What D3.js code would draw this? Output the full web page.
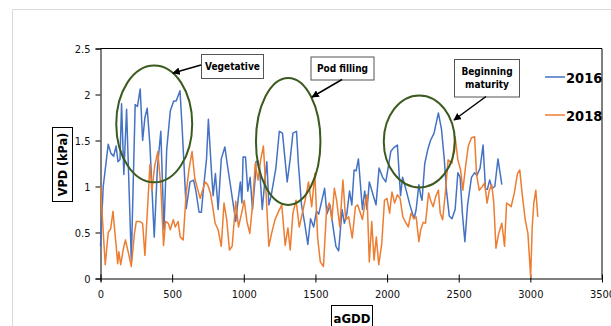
<!DOCTYPE html>
<html>
<head>
<meta charset="utf-8">
<script src="https://cdn.jsdelivr.net/npm/d3@7"></script>
<style>
  body { margin: 0; background: #fff; }
  svg text { font-family: "Liberation Sans Narrow", "DejaVu Sans Condensed", "Arial Narrow", sans-serif; }
</style>
</head>
<body>
<div id="chart"></div>
<script>
// chart size
var width = 611;
var height = 326;

// data (aGDD, VPD in kPa)
var x2016 = [0, 19, 54, 73, 92, 109, 122, 136, 147, 163,
  182, 215, 242, 258, 277, 294, 310, 326, 345, 375,
  397, 421, 443, 462, 487, 511, 528, 555, 571, 598,
  625, 650, 666, 688, 704, 720, 740, 753, 775, 786,
  802, 821, 843, 868, 884, 908, 944, 960, 976, 987,
  995, 1012, 1028, 1044, 1061, 1080, 1085, 1099, 1110, 1129,
  1148, 1161, 1175, 1191, 1224, 1248, 1270, 1303, 1324, 1343,
  1368, 1381, 1403, 1425, 1447, 1466, 1488, 1507, 1523, 1564,
  1580, 1602, 1624, 1643, 1662, 1686, 1702, 1719, 1738, 1754,
  1770, 1784, 1800, 1828, 1844, 1860, 1876, 1904, 1923, 1944,
  1969, 1991, 2007, 2026, 2045, 2072, 2094, 2108, 2135, 2159,
  2189, 2203, 2222, 2235, 2244, 2263, 2284, 2303, 2328, 2358,
  2380, 2399, 2415, 2434, 2453, 2475, 2494, 2510, 2526, 2543,
  2562, 2589, 2611, 2627, 2649, 2670, 2687, 2700, 2716, 2733,
  2752, 2774, 2801];
var vpd2016 = [0.35, 1.0, 1.46, 1.36, 1.33, 1.44, 1.27, 1.29, 1.9, 1.13,
  1.84, 0.2, 1.89, 1.87, 2.06, 1.5, 1.75, 1.85, 1.45, 0.45,
  1.2, 1.6, 0.53, 1.4, 1.82, 1.93, 1.93, 2.04, 1.6, 0.76,
  1.05, 1.07, 0.95, 0.72, 0.72, 1.0, 1.3, 1.73, 1.15, 0.9,
  1.14, 0.75, 1.3, 1.43, 1.25, 1.0, 0.62, 0.85, 1.05, 0.82,
  1.32, 1.32, 0.95, 1.1, 0.75, 1.1, 1.27, 1.28, 1.2, 0.75,
  1.08, 1.27, 0.8, 0.9, 1.2, 1.6, 1.58, 1.05, 1.3, 1.58,
  1.6, 1.25, 0.8, 0.6, 0.37, 0.65, 0.56, 0.73, 0.7, 0.98,
  0.7, 0.8, 0.55, 0.35, 0.3, 0.75, 0.6, 0.7, 0.95, 0.8,
  1.18, 1.17, 1.3, 0.75, 0.95, 0.75, 1.05, 0.9, 0.8, 1.2,
  1.1, 1.05, 1.2, 1.38, 1.42, 1.45, 0.9, 1.1, 0.95, 0.8,
  0.65, 0.75, 1.02, 0.9, 0.85, 1.25, 1.4, 1.5, 1.58, 1.8,
  1.62, 1.3, 0.95, 0.68, 0.65, 0.75, 1.15, 1.1, 0.7, 0.4,
  0.8, 1.1, 1.15, 1.12, 1.2, 1.45, 0.97, 0.97, 1.07, 0.98,
  1.0, 1.3, 1.02];

var x2018 = [0, 33, 54, 71, 87, 109, 120, 128, 141, 158,
  174, 196, 215, 237, 250, 272, 294, 310, 345, 359,
  378, 400, 421, 440, 454, 473, 487, 508, 522, 541,
  557, 577, 598, 617, 639, 658, 680, 696, 712, 731,
  748, 767, 783, 800, 821, 843, 862, 881, 900, 919,
  944, 963, 985, 1003, 1022, 1042, 1061, 1080, 1099, 1118,
  1137, 1153, 1175, 1194, 1218, 1243, 1265, 1289, 1308, 1324,
  1343, 1365, 1387, 1406, 1428, 1452, 1474, 1496, 1515, 1534,
  1556, 1577, 1596, 1615, 1632, 1648, 1670, 1692, 1711, 1732,
  1757, 1779, 1795, 1814, 1828, 1844, 1860, 1876, 1893, 1909,
  1925, 1942, 1963, 1982, 1999, 2018, 2034, 2053, 2072, 2091,
  2110, 2126, 2148, 2167, 2186, 2203, 2222, 2235, 2252, 2268,
  2290, 2306, 2322, 2339, 2358, 2371, 2388, 2407, 2426, 2453,
  2475, 2494, 2513, 2529, 2548, 2567, 2589, 2611, 2624, 2643,
  2665, 2681, 2698, 2714, 2730, 2744, 2760, 2779, 2801, 2820,
  2834, 2853, 2866, 2888, 2910, 2926, 2942, 2964, 2983, 3002,
  3013, 3024, 3038, 3052];
var vpd2018 = [1.0, 0.15, 0.5, 0.54, 0.73, 0.36, 0.16, 0.29, 0.15, 0.31,
  0.42, 0.27, 0.13, 0.49, 0.62, 0.62, 0.6, 0.25, 1.24, 0.96,
  1.22, 1.38, 1.0, 0.36, 0.62, 0.6, 0.53, 0.64, 0.56, 0.62,
  0.45, 0.42, 0.93, 1.18, 1.38, 1.09, 0.96, 0.87, 0.96, 1.05,
  1.02, 0.93, 0.78, 0.6, 0.53, 0.35, 0.82, 0.64, 0.31, 0.35,
  0.84, 0.56, 0.71, 0.85, 0.62, 0.49, 0.8, 1.25, 1.07, 1.29,
  1.44, 1.0, 0.35, 0.49, 0.64, 0.73, 0.8, 0.36, 0.55, 0.31,
  0.71, 0.85, 0.56, 0.69, 0.85, 1.05, 0.78, 1.14, 0.45, 0.18,
  0.13, 0.73, 0.82, 0.64, 0.98, 0.85, 0.56, 1.07, 0.64, 0.67,
  0.44, 0.78, 0.8, 0.71, 0.64, 0.8, 0.91, 0.18, 0.62, 0.2,
  0.45, 0.15, 0.38, 0.85, 0.87, 0.71, 0.94, 0.82, 0.91, 0.87,
  0.67, 0.62, 0.56, 0.71, 0.65, 0.67, 0.4, 0.53, 0.61, 0.6,
  0.93, 0.84, 0.78, 0.89, 0.96, 0.71, 0.64, 0.94, 1.29, 1.25,
  1.54, 1.29, 1.18, 0.96, 1.22, 1.44, 1.53, 1.54, 1.14, 0.96,
  1.0, 1.04, 0.82, 0.96, 1.02, 0.84, 0.33, 0.49, 0.6, 0.35,
  0.82, 0.8, 0.78, 0.93, 1.14, 1.18, 0.93, 0.64, 0.49, 0.02,
  0.56, 0.82, 0.96, 0.67];

var seriesNames = ["2016", "2018"];
var seriesColors = ["#4472C4", "#ED7D31"];
var xTicks = [0, 500, 1000, 1500, 2000, 2500, 3000, 3500];
var yTicks = [0, 0.5, 1, 1.5, 2, 2.5];

// growth stage callouts: label lines, ellipse centre / radii in data units
var stageLabels = [["Vegetative"], ["Pod filling"], ["Beginning", "maturity"]];
var stageCx = [375, 1310, 2225];
var stageCy = [1.68, 1.49, 1.49];
var stageRx = [265, 225, 248];
var stageRy = [0.635, 0.69, 0.50];

var svg = d3.select("#chart")
    .append("svg")
    .attr("width", width)
    .attr("height", height);

// light outer frame of the chart area
svg.append("path")
    .attr("d", "M12.5," + height + "V9.5H" + width)
    .attr("fill", "none")
    .attr("stroke", "#d9d9d9")
    .attr("stroke-width", 1);

var x = d3.scaleLinear().domain([0, 3500]).range([100.5, 602]);
var y = d3.scaleLinear().domain([0, 2.5]).range([278.5, 48.5]);

// plot area box (top and right edge)
svg.append("path")
    .attr("d", `M${x(0)},${y(2.5)}H${x(3500)}V${y(0)}`)
    .attr("fill", "none")
    .attr("stroke", "#000")
    .attr("stroke-width", 1);

// x axis
var gx = svg.append("g")
    .attr("transform", `translate(0, ${y(0)})`)
    .call(d3.axisBottom(x).tickValues(xTicks).tickSizeOuter(0).tickSize(3).tickPadding(9)
        .tickFormat(d => String(d)));
gx.selectAll(".tick line").attr("y1", -4).attr("y2", 4);

// y axis
var gy = svg.append("g")
    .attr("transform", `translate(${x(0)}, 0)`)
    .call(d3.axisLeft(y).tickValues(yTicks).tickSizeOuter(0).tickSize(5).tickPadding(5)
        .tickFormat(d => String(d)));

svg.selectAll(".domain, .tick line").attr("stroke", "#000");
svg.selectAll(".tick text")
    .style("font-size", "11px")
    .attr("fill", "#111");

// lines
var line = d3.line()
    .x(d => x(d[0]))
    .y(d => y(d[1]));

var series = [d3.zip(x2016, vpd2016), d3.zip(x2018, vpd2018)];

svg.selectAll(".series")
    .data(series)
    .enter()
    .append("path")
    .attr("class", "series")
    .attr("d", line)
    .attr("fill", "none")
    .attr("stroke", (d, i) => seriesColors[i])
    .attr("stroke-width", 1.5)
    .attr("stroke-linejoin", "round");

// ellipses around the growth stages
svg.selectAll(".stage")
    .data(stageLabels)
    .enter()
    .append("ellipse")
    .attr("cx", (d, i) => x(stageCx[i]))
    .attr("cy", (d, i) => y(stageCy[i]))
    .attr("rx", (d, i) => x(stageRx[i]) - x(0))
    .attr("ry", (d, i) => y(0) - y(stageRy[i]))
    .attr("fill", "none")
    .attr("stroke", "#3a5a1e")
    .attr("stroke-width", 2);

// arrow head
svg.append("defs").append("marker")
    .attr("id", "arrow")
    .attr("viewBox", "0 0 10 10")
    .attr("refX", 9)
    .attr("refY", 5)
    .attr("markerWidth", 5)
    .attr("markerHeight", 5)
    .attr("orient", "auto")
    .append("path")
    .attr("d", "M0,0L10,5L0,10z")
    .attr("fill", "#000");

// callout boxes: [x, y, w, h] in px and arrow from -> to
var boxes = [
  {b: [201, 54, 62, 24], a: [201, 65, 173, 73]},
  {b: [310.5, 56.5, 63, 23], a: [342, 79.5, 312, 97]},
  {b: [454, 59, 65, 37.5], a: [486, 96.5, 454, 120]}
];

boxes.forEach(function(o, i) {
    svg.append("rect")
        .attr("x", o.b[0] + 0.5).attr("y", o.b[1] + 0.5)
        .attr("width", o.b[2]).attr("height", o.b[3])
        .attr("fill", "#fff")
        .attr("stroke", "#555")
        .attr("stroke-width", 1);
    var lines = stageLabels[i];
    lines.forEach(function(t, j) {
        svg.append("text")
            .attr("x", o.b[0] + o.b[2] / 2 + 0.5)
            .attr("y", o.b[1] + o.b[3] / 2 + 4 + (j - (lines.length - 1) / 2) * 13)
            .attr("text-anchor", "middle")
            .style("font-size", "10px")
            .style("font-weight", "bold")
            .text(t);
    });
    svg.append("line")
        .attr("x1", o.a[0]).attr("y1", o.a[1])
        .attr("x2", o.a[2]).attr("y2", o.a[3])
        .attr("stroke", "#000")
        .attr("stroke-width", 1.5)
        .attr("marker-end", "url(#arrow)");
});

// legend
var legend = svg.selectAll(".legend")
    .data(seriesNames)
    .enter()
    .append("g")
    .attr("transform", (d, i) => `translate(545, ${77 + i * 38})`);

legend.append("line")
    .attr("x1", 0).attr("x2", 20)
    .attr("stroke", (d, i) => seriesColors[i])
    .attr("stroke-width", 1.5);

legend.append("text")
    .attr("x", 21)
    .attr("y", 6)
    .style("font-size", "14.5px")
    .style("font-weight", "bold")
    .text(d => d);

// axis titles with boxes
svg.append("rect")
    .attr("x", 331.5).attr("y", 305.5)
    .attr("width", 41).attr("height", 30)
    .attr("fill", "#fff").attr("stroke", "#000");
svg.append("text")
    .attr("x", 352).attr("y", 323)
    .attr("text-anchor", "middle")
    .style("font-size", "13px")
    .style("font-weight", "bold")
    .text("aGDD");

svg.append("rect")
    .attr("x", 52.5).attr("y", 127.5)
    .attr("width", 20).attr("height", 74)
    .attr("fill", "#fff").attr("stroke", "#000");
svg.append("text")
    .attr("transform", "translate(67, 164.5) rotate(-90)")
    .attr("text-anchor", "middle")
    .style("font-size", "12.5px")
    .style("font-weight", "bold")
    .text("VPD (kPa)");
</script>
</body>
</html>
